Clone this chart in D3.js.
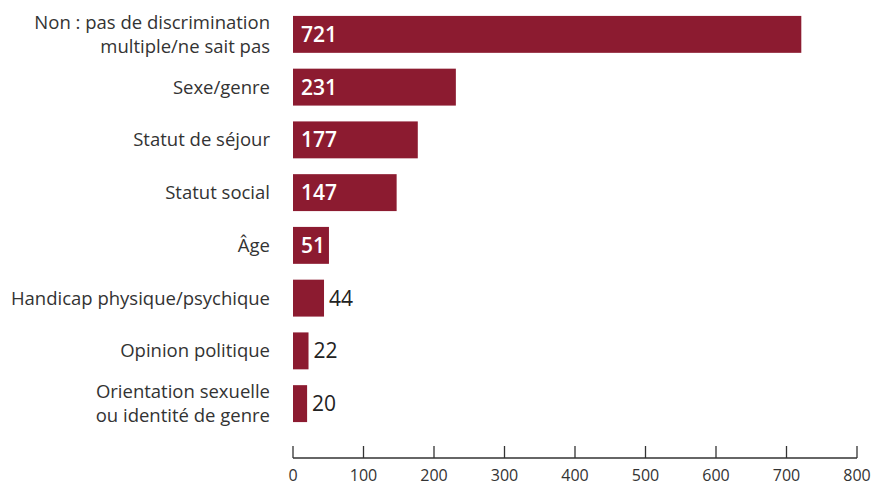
<!DOCTYPE html>
<html><head><meta charset="utf-8">
<script src="https://cdn.jsdelivr.net/npm/d3@7"></script>
<style>body{margin:0;background:#fff;}svg{display:block;}</style>
</head><body>
<svg id="c" width="877" height="486"></svg>
<script>
const categories = [
  ["Non : pas de discrimination", "multiple/ne sait pas"],
  ["Sexe/genre"],
  ["Statut de séjour"],
  ["Statut social"],
  ["Âge"],
  ["Handicap physique/psychique"],
  ["Opinion politique"],
  ["Orientation sexuelle", "ou identité de genre"]
];
const values = [721, 231, 177, 147, 51, 44, 22, 20];
const ticks = [0, 100, 200, 300, 400, 500, 600, 700, 800];

const svg = d3.select("#c");
const font = "'Open Sans', sans-serif";
const x = d3.scaleLinear().domain([0, 800]).range([293, 857]);
const y = d3.scaleBand().domain(d3.range(values.length)).range([8, 430]).paddingInner(0.3).paddingOuter(0.15);
const color = "#8c1b30";

svg.selectAll("rect.bar").data(values).join("rect")
  .attr("x", x(0)).attr("y", (d,i)=>y(i))
  .attr("width", d=>x(d)-x(0)).attr("height", y.bandwidth())
  .attr("fill", color);

svg.selectAll("text.val").data(values).join("text")
  .attr("x", d => d >= 50 ? x(0)+8 : x(d)+5)
  .attr("y", (d,i)=>y(i)+y.bandwidth()/2)
  .attr("dy", "0.36em")
  .attr("font-family", font)
  .attr("font-size", 21)
  .attr("font-weight", d => d >= 50 ? 600 : "normal")
  .attr("fill", d => d >= 50 ? "#fff" : "#222")
  .text(d=>d);

const lab = svg.selectAll("text.cat").data(categories).join("text")
  .attr("text-anchor", "end")
  .attr("font-family", font).attr("font-size", 18.5).attr("fill", "#333");
lab.each(function(lines, i){
  const t = d3.select(this);
  const cy = y(i)+y.bandwidth()/2;
  const lh = 24;
  lines.forEach((l, j) => {
    t.append("tspan").attr("x", 270)
      .attr("y", cy + (j - (lines.length-1)/2)*lh)
      .attr("dy", "0.35em").text(l);
  });
});

const g = svg.append("g").attr("transform", "translate(0,458)");
g.append("line").attr("x1", x(0)).attr("x2", x(800)).attr("stroke", "#333").attr("stroke-width", 1.3);
g.selectAll("line.t").data(ticks).join("line")
  .attr("x1", d=>x(d)).attr("x2", d=>x(d)).attr("y1", 0).attr("y2", -12)
  .attr("stroke", "#333").attr("stroke-width", 1.3);
g.selectAll("text.tl").data(ticks).join("text")
  .attr("x", d=>x(d)).attr("y", 23)
  .attr("text-anchor", "middle").attr("font-family", font).attr("font-size", 16).attr("fill", "#333")
  .text(d=>d);
</script>
</body></html>
